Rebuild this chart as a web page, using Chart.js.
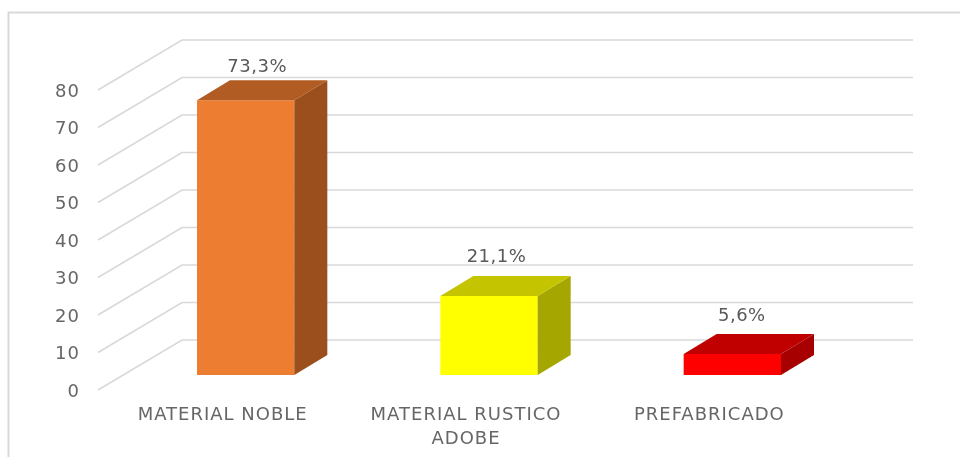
<!DOCTYPE html>
<html>
<head>
<meta charset="utf-8">
<script src="https://cdn.jsdelivr.net/npm/chart.js@4"></script>
<style>
html,body{margin:0;padding:0;background:#fff;overflow:hidden}
canvas{display:block;filter:blur(0.35px)}
</style>
</head>
<body>
<canvas id="c" width="960" height="457"></canvas>
<script>
const categories = ["MATERIAL NOBLE", ["MATERIAL RUSTICO", "ADOBE"], "PREFABRICADO"];
const values = [73.3, 21.1, 5.6];
const valueLabels = ["73,3%", "21,1%", "5,6%"];
const frontColors = ["#ED7D31", "#FFFF00", "#FF0000"];
const topColors = ["#B05C22", "#C4C400", "#C00000"];
const sideColors = ["#9A4F1C", "#A6A600", "#A60000"];
const labelNudgeX = [11.5, 7.5, 9.5];
const labelLift = [33, 39, 38];

const GRID = "#d9d9d9", TEXT = "#666666";
const FONT = '"DejaVu Sans", sans-serif';
const DEPTH_X = 33, DEPTH_Y = 20;          // bar depth
const WALL = {frontX: 98, backX: 182, right: 913, frontDrop: 15, backRise: 35};

const frame = {
  id: "frame",
  beforeDraw(chart) {
    const c = chart.ctx;
    c.letterSpacing = "1px";
    c.save();
    c.strokeStyle = GRID; c.lineWidth = 2;
    c.beginPath();
    c.moveTo(8.5, 457); c.lineTo(8.5, 12.5); c.lineTo(960, 12.5);
    c.stroke();
    c.restore();
  }
};

const walls = {
  id: "walls",
  beforeDatasetsDraw(chart) {
    const c = chart.ctx, y = chart.scales.y;
    c.save();
    c.strokeStyle = GRID; c.lineWidth = 1.7;
    y.ticks.forEach(t => {
      const p = y.getPixelForValue(t.value);
      c.beginPath();
      c.moveTo(WALL.frontX, p + WALL.frontDrop);
      c.lineTo(WALL.backX, p - WALL.backRise);
      c.lineTo(WALL.right, p - WALL.backRise);
      c.stroke();
    });
    c.restore();
  }
};

const bars3d = {
  id: "bars3d",
  afterDatasetsDraw(chart) {
    const c = chart.ctx;
    const meta = chart.getDatasetMeta(0);
    c.save();
    meta.data.forEach((b, i) => {
      const l = b.x - b.width / 2, r = b.x + b.width / 2, t = b.y, bt = b.base;
      c.fillStyle = sideColors[i];
      c.beginPath();
      c.moveTo(r, t); c.lineTo(r + DEPTH_X, t - DEPTH_Y);
      c.lineTo(r + DEPTH_X, bt - DEPTH_Y); c.lineTo(r, bt);
      c.closePath(); c.fill();
      c.fillStyle = topColors[i];
      c.beginPath();
      c.moveTo(l, t); c.lineTo(l + DEPTH_X, t - DEPTH_Y);
      c.lineTo(r + DEPTH_X, t - DEPTH_Y); c.lineTo(r, t);
      c.closePath(); c.fill();
      c.fillStyle = "#595959";
      c.letterSpacing = "0.5px";
      c.font = "18px " + FONT;
      c.textAlign = "center"; c.textBaseline = "middle";
      c.fillText(valueLabels[i], b.x + labelNudgeX[i], t - labelLift[i]);
      c.letterSpacing = "1px";
    });
    c.restore();
  }
};

new Chart(document.getElementById("c"), {
  type: "bar",
  data: {
    labels: categories,
    datasets: [{
      data: values,
      backgroundColor: frontColors,
      borderWidth: 0,
      categoryPercentage: 1,
      barPercentage: 0.4
    }]
  },
  plugins: [frame, walls, bars3d],
  options: {
    responsive: false,
    animation: false,
    layout: {padding: {top: 75, right: 106, bottom: 0, left: 0}},
    plugins: {legend: {display: false}, tooltip: {enabled: false}},
    scales: {
      x: {
        grid: {display: false, drawTicks: false},
        border: {display: false},
        afterFit(s) { s.height = 82; },
        ticks: {
          color: TEXT, autoSkip: false, maxRotation: 0, minRotation: 0,
          padding: 28, labelOffset: -23,
          font: {family: FONT, size: 18, lineHeight: 1.33}
        }
      },
      y: {
        min: 0, max: 80,
        grid: {display: false, drawTicks: false},
        border: {display: false},
        afterFit(s) { s.width = 124; },
        ticks: {
          color: TEXT, stepSize: 10, padding: 44, labelOffset: 17,
          font: {family: FONT, size: 18}
        }
      }
    }
  }
});
</script>
</body>
</html>
